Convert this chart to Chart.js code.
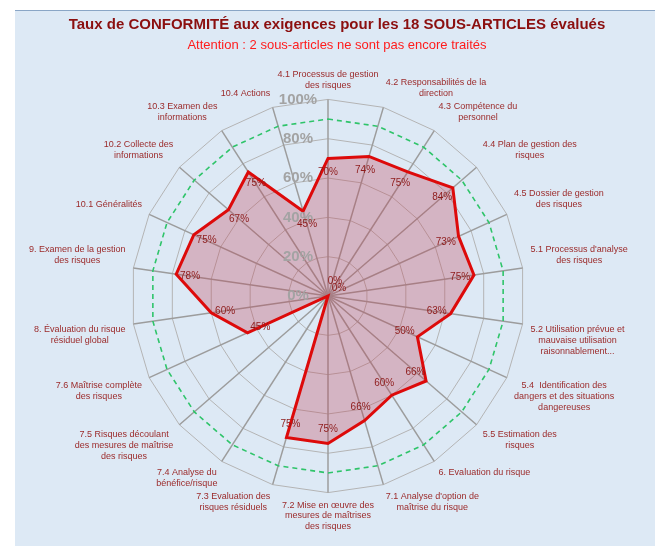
<!DOCTYPE html>
<html>
<head>
<meta charset="utf-8">
<script src="https://cdn.jsdelivr.net/npm/chart.js@4/dist/chart.umd.min.js"></script>
<style>
    body { margin: 0; background: #fff; font-family: 'Liberation Sans', Arial, sans-serif; }
    #panel { position: absolute; left: 15px; top: 10px; width: 640px; height: 535px; background: #dde9f5; border-top: 1px solid #8aa6c6; }
    #wrap { position: absolute; left: 0; top: 0; width: 640px; height: 535px; }
    .titre { position: absolute; left: 0; width: 644px; text-align: center; white-space: nowrap; }
    #titre { top: 4px; font-size: 15px; font-weight: bold; color: #8b0f0f; }
    #sousTitre { top: 26px; font-size: 13px; color: #ff1c1c; }
</style>
</head>
<body>
<div id="panel">
    <div id="wrap"><canvas id="radarChart"></canvas></div>
    <div class="titre" id="titre">Taux de CONFORMITÉ aux exigences pour les 18 SOUS-ARTICLES évalués</div>
    <div class="titre" id="sousTitre">Attention : 2 sous-articles ne sont pas encore traités</div>
</div>
<script>
// Sous-articles (dans l'ordre horaire depuis le haut)
const categories = [
    ["4.1 Processus de gestion", "des risques"],
    ["4.2 Responsabilités de la", "direction"],
    ["4.3 Compétence du", "personnel"],
    ["4.4 Plan de gestion des", "risques"],
    ["4.5 Dossier de gestion", "des risques"],
    ["5.1 Processus d'analyse", "des risques"],
    ["5.2 Utilisation prévue et", "mauvaise utilisation", "raisonnablement..."],
    ["5.4  Identification des", "dangers et des situations", "dangereuses"],
    ["5.5 Estimation des", "risques"],
    ["6. Evaluation du risque"],
    ["7.1 Analyse d'option de", "maîtrise du risque"],
    ["7.2 Mise en œuvre des", "mesures de maîtrises", "des risques"],
    ["7.3 Evaluation des", "risques résiduels"],
    ["7.4 Analyse du", "bénéfice/risque"],
    ["7.5 Risques découlant", "des mesures de maîtrise", "des risques"],
    ["7.6 Maîtrise complète", "des risques"],
    ["8. Évaluation du risque", "résiduel global"],
    ["9. Examen de la gestion", "des risques"],
    ["10.1 Généralités"],
    ["10.2 Collecte des", "informations"],
    ["10.3 Examen des", "informations"],
    ["10.4 Actions"]
];

// Taux de conformité (%)
const conformite = [70, 74, 75, 84, 73, 75, 63, 50, 66, 60, 66, 75, 75, 0, 0, 45, 60, 78, 75, 67, 75, 45];

// Objectif (ligne pointillée verte)
const objectif = categories.map(() => 90);

const tickValues = [0, 20, 40, 60, 80, 100];

const FONT = "'Liberation Sans', Arial, sans-serif";

// Graduations décalées à gauche de l'axe vertical
const tickLabelsPlugin = {
    id: "tickLabels",
    afterDatasetsDraw(chart) {
        const r = chart.scales.r;
        const c = chart.ctx;
        c.save();
        c.font = "bold 15px " + FONT;
        c.fillStyle = "#a3a3a3";
        c.textAlign = "center";
        c.textBaseline = "middle";
        tickValues.forEach(v => {
            c.fillText(v + "%", r.xCenter - 30, r.yCenter - r.getDistanceFromCenterForValue(v));
        });
        c.restore();
    }
};

// Libellés des axes centrés dans leur boîte (la boîte vient du layout de Chart.js)
const pointLabelsPlugin = {
    id: "centeredPointLabels",
    afterDraw(chart) {
        const r = chart.scales.r;
        const items = r._pointLabelItems || [];
        const c = chart.ctx;
        c.save();
        c.font = "9px " + FONT;
        c.fillStyle = "#9b2a2a";
        c.textAlign = "center";
        c.textBaseline = "top";
        items.forEach((it, i) => {
            const lines = categories[i];
            const cx = (it.left + it.right) / 2;
            lines.forEach((line, k) => c.fillText(line, cx, it.top + k * 10.8));
        });
        c.restore();
    }
};

// Étiquettes de valeurs, légèrement vers le centre
const valueLabelsPlugin = {
    id: "valueLabels",
    afterDatasetsDraw(chart) {
        const r = chart.scales.r;
        const c = chart.ctx;
        c.save();
        c.font = "10px " + FONT;
        c.fillStyle = "#8e1b1b";
        c.textAlign = "center";
        c.textBaseline = "middle";
        let z = 0;
        conformite.forEach((v, i) => {
            if (v === 0) {
                c.fillText("0%", r.xCenter + 7 + z * 4, r.yCenter - 15 + z * 7);
                z++;
                return;
            }
            const d = r.getDistanceFromCenterForValue(v) - 14;
            const p = r.getPointPosition(i, d);
            c.fillText(v + "%", p.x, p.y);
        });
        c.restore();
    }
};

new Chart(document.getElementById("radarChart"), {
    type: "radar",
    data: {
        labels: categories,
        datasets: [
            { label: "Objectif", data: objectif, borderColor: "#2fc46a", borderWidth: 1.6, borderDash: [5, 4], backgroundColor: "transparent", fill: false, pointRadius: 0 },
            { label: "Conformité", data: conformite, borderColor: "#dd0a0a", borderWidth: 3, backgroundColor: "rgba(192,60,80,0.3)", fill: true, pointRadius: 0 }
        ]
    },
    options: {
        responsive: true,
        maintainAspectRatio: false,
        animation: false,
        layout: { padding: { left: 0, right: 12, top: 54, bottom: 7 } },
        plugins: {
            legend: { display: false },
            tooltip: { enabled: false }
        },
        scales: {
            r: {
                min: 0,
                max: 100,
                ticks: { stepSize: 20, display: false },
                grid: { color: "#b4b4b4", lineWidth: 1, borderDash: [2, 2] },
                angleLines: { color: "#9c9c9c", lineWidth: 1.5 },
                pointLabels: { color: "rgba(0,0,0,0)", font: { family: FONT, size: 9 }, padding: 8 }
            }
        }
    },
    plugins: [tickLabelsPlugin, pointLabelsPlugin, valueLabelsPlugin]
});
</script>
</body>
</html>
